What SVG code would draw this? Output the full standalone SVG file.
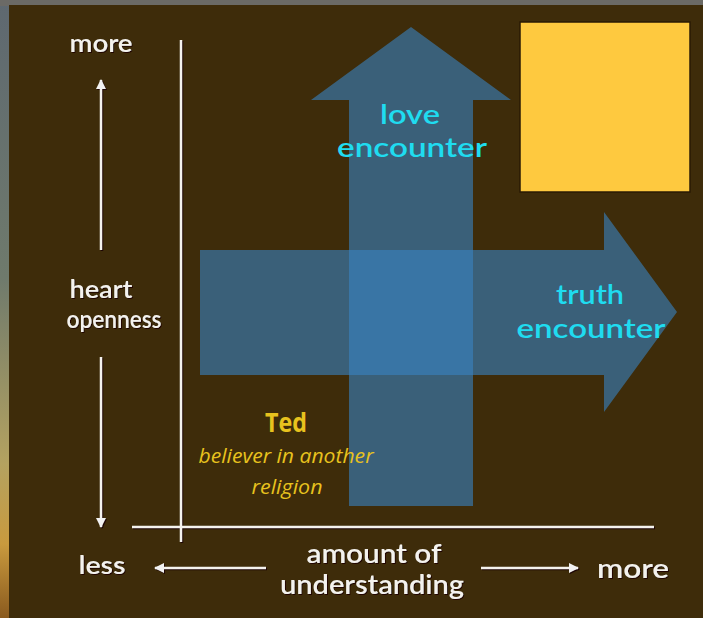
<svg xmlns="http://www.w3.org/2000/svg" width="703" height="618" viewBox="0 0 703 618">
<defs>
<linearGradient id="sky" x1="0" y1="0" x2="0" y2="1">
<stop offset="0" stop-color="#5e6870"/>
<stop offset="0.45" stop-color="#6f7a6c"/>
<stop offset="0.75" stop-color="#b4a260"/>
<stop offset="0.88" stop-color="#c99a3e"/>
<stop offset="1" stop-color="#8a5a1e"/>
</linearGradient>
<marker id="ah" viewBox="0 0 10 10" refX="9" refY="5" markerWidth="4" markerHeight="4" orient="auto">
<path d="M0,0 L10,5 L0,10 z" fill="#f2f2f2"/>
</marker>
<marker id="ahs" viewBox="0 0 10 10" refX="9" refY="5" markerWidth="4" markerHeight="4" orient="auto">
<path d="M0,0 L10,5 L0,10 z" fill="#1e0606"/>
</marker>
<filter id="sh" x="-10%" y="-20%" width="130%" height="150%">
<feDropShadow dx="1" dy="1" stdDeviation="0.6" flood-color="#1a0505" flood-opacity="0.9"/>
</filter>
</defs>
<style>
.axis{stroke:#f4f2ee;stroke-width:2.5;fill:none}
.axs{stroke:#1e0606;stroke-width:2.5;fill:none}
.lbl{font-family:Lato,"Noto Sans",sans-serif;font-weight:600;fill:#f4f2ee;text-anchor:middle;filter:url(#sh)}
.enc{font-family:Lato,"Noto Sans",sans-serif;font-weight:600;fill:#1fdcf0;text-anchor:middle;font-size:27px}
.arrow{fill:#3883c3;fill-opacity:0.6}
.ted{font-family:"Liberation Sans Narrow","Open Sans",sans-serif;fill:#e8c21e;text-anchor:middle}
</style>
<rect x="0" y="0" width="703" height="618" fill="url(#sky)"/>
<rect x="0" y="0" width="703" height="6" fill="#6b6a66"/>
<rect x="9" y="5" width="694" height="613" fill="#3e2c0a"/>

<g id="yellow-square">
<rect x="520" y="22" width="170" height="170" fill="#fec93f" stroke="#2a1a04" stroke-width="1.5"/>
</g>

<g id="love-encounter">
<path class="arrow" d="M349,506 L349,100 L311,100 L411,27 L511,100 L473,100 L473,506 Z"/>
<text class="enc" x="410" y="124" textLength="60" lengthAdjust="spacingAndGlyphs">love</text>
<text class="enc" x="412" y="157" textLength="150" lengthAdjust="spacingAndGlyphs">encounter</text>
</g>

<g id="truth-encounter">
<path class="arrow" d="M200,250 L604,250 L604,212 L677,312 L604,412 L604,375 L200,375 Z"/>
<text class="enc" x="590" y="304" textLength="68" lengthAdjust="spacingAndGlyphs">truth</text>
<text class="enc" x="591" y="338" textLength="149" lengthAdjust="spacingAndGlyphs">encounter</text>
</g>

<g id="ted">
<text class="ted" x="286" y="432" font-size="27" font-weight="bold" textLength="42" lengthAdjust="spacingAndGlyphs">Ted</text>
<text class="ted" x="286" y="463" font-size="20" font-style="italic" textLength="175" lengthAdjust="spacingAndGlyphs">believer in another</text>
<text class="ted" x="287" y="494" font-size="20" font-style="italic" textLength="71" lengthAdjust="spacingAndGlyphs">religion</text>
</g>

<g id="connectors">
<line class="axs" x1="182" y1="41" x2="182" y2="543"/>
<line class="axs" x1="133" y1="528" x2="655" y2="528"/>
<line class="axs" x1="102" y1="251" x2="102" y2="81" marker-end="url(#ahs)"/>
<line class="axs" x1="102" y1="358" x2="102" y2="528" marker-end="url(#ahs)"/>
<line class="axs" x1="267" y1="569" x2="156" y2="569" marker-end="url(#ahs)"/>
<line class="axs" x1="482" y1="569" x2="579" y2="569" marker-end="url(#ahs)"/>
<line class="axis" x1="181" y1="40" x2="181" y2="542"/>
<line class="axis" x1="132" y1="527" x2="654" y2="527"/>
<line class="axis" x1="101" y1="250" x2="101" y2="80" marker-end="url(#ah)"/>
<line class="axis" x1="101" y1="357" x2="101" y2="527" marker-end="url(#ah)"/>
<line class="axis" x1="266" y1="568" x2="155" y2="568" marker-end="url(#ah)"/>
<line class="axis" x1="481" y1="568" x2="578" y2="568" marker-end="url(#ah)"/>
</g>

<g id="axis-labels">
<text class="lbl" x="101" y="52" font-size="25" textLength="63" lengthAdjust="spacingAndGlyphs">more</text>
<text class="lbl" x="101" y="298" font-size="25" textLength="63" lengthAdjust="spacingAndGlyphs">heart</text>
<text class="lbl" x="114" y="328" font-size="25" textLength="95" lengthAdjust="spacingAndGlyphs">openness</text>
<text class="lbl" x="102" y="574" font-size="25" textLength="47" lengthAdjust="spacingAndGlyphs">less</text>
<text class="lbl" x="374" y="563" font-size="26" textLength="135" lengthAdjust="spacingAndGlyphs">amount of</text>
<text class="lbl" x="372" y="594" font-size="26" textLength="184" lengthAdjust="spacingAndGlyphs">understanding</text>
<text class="lbl" x="633" y="578" font-size="26" textLength="72" lengthAdjust="spacingAndGlyphs">more</text>
</g>
</svg>
